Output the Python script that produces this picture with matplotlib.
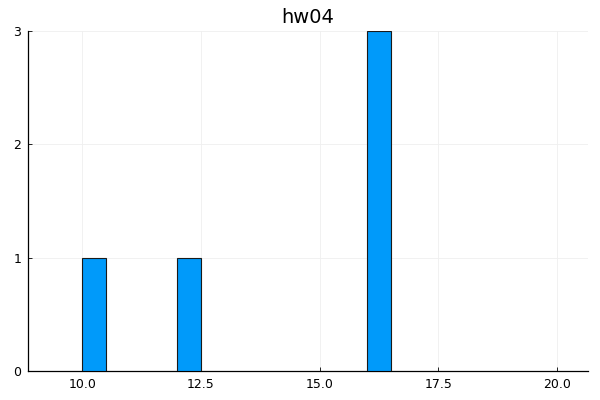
import matplotlib
matplotlib.use("Agg")
import matplotlib.pyplot as plt

# histogram bins (left edge) and counts
bin_lefts = [10.0, 12.0, 16.0]
counts = [1, 1, 3]
bin_width = 0.5
xticks = [10.0, 12.5, 15.0, 17.5, 20.0]
yticks = [0, 1, 2, 3]

fig = plt.figure(figsize=(6, 4), dpi=100)
ax = fig.add_axes([0.047, 0.0725, 0.933, 0.85])

ax.bar(bin_lefts, counts, width=bin_width, align="edge",
       color="#009afa", edgecolor="#1a1a1a", linewidth=0.8, zorder=3)

ax.set_xlim(8.86, 20.65)
ax.set_ylim(0, 3)
ax.set_xticks(xticks)
ax.set_xticklabels([f"{t:.1f}" for t in xticks])
ax.set_yticks(yticks)
ax.grid(True, color="#efefef", linewidth=0.6, zorder=0)
ax.tick_params(direction="in", length=3, labelsize=9, width=0.6, pad=5)
for s in ("top", "right"):
    ax.spines[s].set_visible(False)
for s in ("left", "bottom"):
    ax.spines[s].set_linewidth(0.9)

ax.set_title("hw04", fontsize=14, pad=6)

fig.savefig("out.png", dpi=100)
